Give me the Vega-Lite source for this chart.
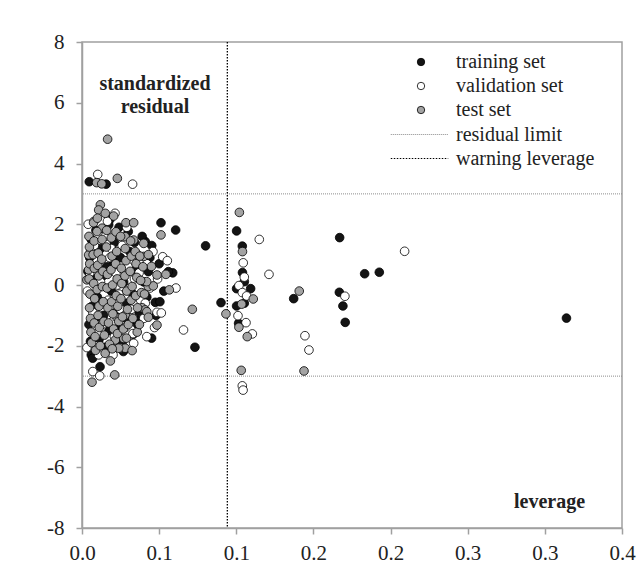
{
"$schema": "https://vega.github.io/schema/vega-lite/v6.json",
"width": 540, "height": 486,
"autosize": {"type": "none"},
"padding": {"left": 82, "top": 42, "right": 19, "bottom": 51},
"background": "white",
"config": {
 "font": "Liberation Serif",
 "view": {"stroke": "#a0a0a0", "strokeWidth": 1.5},
 "axis": {"grid": false, "labelFlush": false, "domainColor": "#a0a0a0", "tickColor": "#a0a0a0", "tickSize": 6, "domainWidth": 1.5, "tickWidth": 1.5, "labelFont": "Liberation Serif", "labelFontSize": 21, "labelColor": "#222", "title": null},
 "legend": {"labelFont": "Liberation Serif", "labelFontSize": 20, "labelColor": "#222", "title": null, "padding": 0, "rowPadding": 4}
},
"datasets": {
 "pts": [
{"h":0.0047,"r":3.40,"set":"training set"},{"h":0.0156,"r":3.32,"set":"training set"},{"h":0.0173,"r":1.98,"set":"training set"},{"h":0.0300,"r":1.76,"set":"training set"},{"h":0.0410,"r":1.43,"set":"training set"},{"h":0.0452,"r":1.30,"set":"training set"},{"h":0.0512,"r":2.05,"set":"training set"},{"h":0.0607,"r":1.81,"set":"training set"},{"h":0.0801,"r":1.29,"set":"training set"},{"h":0.0588,"r":0.40,"set":"training set"},{"h":0.0560,"r":0.44,"set":"training set"},{"h":0.0430,"r":0.44,"set":"training set"},{"h":0.0475,"r":-0.57,"set":"training set"},{"h":0.0505,"r":-0.55,"set":"training set"},{"h":0.0287,"r":-1.10,"set":"training set"},{"h":0.0354,"r":-1.18,"set":"training set"},{"h":0.0333,"r":-1.62,"set":"training set"},{"h":0.0451,"r":-1.75,"set":"training set"},{"h":0.0268,"r":-2.19,"set":"training set"},{"h":0.0060,"r":-2.30,"set":"training set"},{"h":0.0069,"r":-2.41,"set":"training set"},{"h":0.0117,"r":-2.69,"set":"training set"},{"h":0.0732,"r":-2.05,"set":"training set"},{"h":0.0901,"r":-0.58,"set":"training set"},
{"h":0.0050,"r":0.90,"set":"training set"},{"h":0.0060,"r":1.50,"set":"training set"},{"h":0.0085,"r":0.20,"set":"training set"},{"h":0.0100,"r":-0.40,"set":"training set"},{"h":0.0120,"r":1.20,"set":"training set"},{"h":0.0140,"r":-1.00,"set":"training set"},{"h":0.0160,"r":0.60,"set":"training set"},{"h":0.0190,"r":-0.20,"set":"training set"},{"h":0.0210,"r":1.40,"set":"training set"},{"h":0.0230,"r":-1.40,"set":"training set"},{"h":0.0250,"r":0.90,"set":"training set"},{"h":0.0270,"r":0.10,"set":"training set"},{"h":0.0290,"r":-0.60,"set":"training set"},{"h":0.0310,"r":1.10,"set":"training set"},{"h":0.0330,"r":-0.30,"set":"training set"},{"h":0.0350,"r":0.50,"set":"training set"},{"h":0.0370,"r":-0.90,"set":"training set"},{"h":0.0390,"r":1.60,"set":"training set"},{"h":0.0045,"r":-1.30,"set":"training set"},{"h":0.0065,"r":-0.70,"set":"training set"},{"h":0.0090,"r":1.80,"set":"training set"},{"h":0.0110,"r":-1.80,"set":"training set"},{"h":0.0135,"r":0.30,"set":"training set"},{"h":0.0175,"r":-1.50,"set":"training set"},{"h":0.0200,"r":0.80,"set":"training set"},{"h":0.0220,"r":-0.90,"set":"training set"},{"h":0.0240,"r":1.90,"set":"training set"},{"h":0.0260,"r":-1.90,"set":"training set"},{"h":0.0340,"r":1.40,"set":"training set"},{"h":0.0360,"r":-1.30,"set":"training set"},{"h":0.0400,"r":0.10,"set":"training set"},{"h":0.0420,"r":-0.40,"set":"training set"},{"h":0.0440,"r":0.90,"set":"training set"},{"h":0.0480,"r":-1.00,"set":"training set"},{"h":0.0530,"r":-0.20,"set":"training set"},{"h":0.0500,"r":0.70,"set":"training set"},{"h":0.0038,"r":0.45,"set":"training set"},{"h":0.0055,"r":-1.85,"set":"training set"},{"h":0.0095,"r":-1.05,"set":"training set"},{"h":0.0150,"r":-2.05,"set":"training set"},{"h":0.0180,"r":2.15,"set":"training set"},
{"h":0.1002,"r":1.78,"set":"training set"},{"h":0.1039,"r":1.28,"set":"training set"},{"h":0.1040,"r":0.41,"set":"training set"},{"h":0.1052,"r":0.11,"set":"training set"},{"h":0.1002,"r":-0.12,"set":"training set"},{"h":0.1093,"r":-0.12,"set":"training set"},{"h":0.1052,"r":-0.60,"set":"training set"},{"h":0.1002,"r":-0.69,"set":"training set"},{"h":0.1015,"r":-1.26,"set":"training set"},{"h":0.1372,"r":-0.45,"set":"training set"},{"h":0.1670,"r":1.56,"set":"training set"},{"h":0.1832,"r":0.37,"set":"training set"},{"h":0.1927,"r":0.42,"set":"training set"},{"h":0.1668,"r":-0.24,"set":"training set"},{"h":0.1691,"r":-0.69,"set":"training set"},{"h":0.1706,"r":-1.23,"set":"training set"},{"h":0.3140,"r":-1.09,"set":"training set"},
{"h":0.0102,"r":3.64,"set":"validation set"},{"h":0.0328,"r":3.32,"set":"validation set"},{"h":0.0076,"r":2.09,"set":"validation set"},{"h":0.0214,"r":2.36,"set":"validation set"},{"h":0.0523,"r":0.93,"set":"validation set"},{"h":0.0553,"r":0.80,"set":"validation set"},{"h":0.0609,"r":-0.10,"set":"validation set"},{"h":0.0486,"r":-0.90,"set":"validation set"},{"h":0.0514,"r":-0.92,"set":"validation set"},{"h":0.0420,"r":-1.70,"set":"validation set"},{"h":0.0658,"r":-1.48,"set":"validation set"},{"h":0.0335,"r":-1.92,"set":"validation set"},{"h":0.0248,"r":-2.08,"set":"validation set"},{"h":0.0201,"r":-2.30,"set":"validation set"},{"h":0.0108,"r":-2.30,"set":"validation set"},{"h":0.0032,"r":-2.06,"set":"validation set"},{"h":0.0070,"r":-2.85,"set":"validation set"},{"h":0.0115,"r":-2.99,"set":"validation set"},{"h":0.0187,"r":-1.99,"set":"validation set"},
{"h":0.0050,"r":0.40,"set":"validation set"},{"h":0.0070,"r":-0.90,"set":"validation set"},{"h":0.0080,"r":1.30,"set":"validation set"},{"h":0.0100,"r":-1.60,"set":"validation set"},{"h":0.0120,"r":0.10,"set":"validation set"},{"h":0.0150,"r":1.60,"set":"validation set"},{"h":0.0170,"r":-0.50,"set":"validation set"},{"h":0.0180,"r":0.90,"set":"validation set"},{"h":0.0200,"r":-1.20,"set":"validation set"},{"h":0.0220,"r":0.40,"set":"validation set"},{"h":0.0240,"r":-0.30,"set":"validation set"},{"h":0.0260,"r":1.30,"set":"validation set"},{"h":0.0280,"r":-1.40,"set":"validation set"},{"h":0.0300,"r":0.60,"set":"validation set"},{"h":0.0320,"r":-0.80,"set":"validation set"},{"h":0.0340,"r":0.20,"set":"validation set"},{"h":0.0360,"r":1.00,"set":"validation set"},{"h":0.0380,"r":-0.50,"set":"validation set"},{"h":0.0400,"r":-1.10,"set":"validation set"},{"h":0.0420,"r":0.70,"set":"validation set"},{"h":0.0440,"r":-0.10,"set":"validation set"},{"h":0.0460,"r":1.10,"set":"validation set"},{"h":0.0035,"r":-0.20,"set":"validation set"},{"h":0.0055,"r":1.10,"set":"validation set"},{"h":0.0090,"r":-2.00,"set":"validation set"},{"h":0.0130,"r":-1.30,"set":"validation set"},{"h":0.0165,"r":2.10,"set":"validation set"},{"h":0.0190,"r":1.20,"set":"validation set"},{"h":0.0210,"r":-1.70,"set":"validation set"},{"h":0.0230,"r":0.00,"set":"validation set"},{"h":0.0250,"r":-0.80,"set":"validation set"},{"h":0.0290,"r":1.90,"set":"validation set"},{"h":0.0310,"r":-0.10,"set":"validation set"},{"h":0.0330,"r":-1.60,"set":"validation set"},{"h":0.0370,"r":0.40,"set":"validation set"},{"h":0.0410,"r":-0.60,"set":"validation set"},{"h":0.0490,"r":0.20,"set":"validation set"},{"h":0.0470,"r":-1.40,"set":"validation set"},{"h":0.0040,"r":2.00,"set":"validation set"},
{"h":0.1149,"r":1.50,"set":"validation set"},{"h":0.1045,"r":0.73,"set":"validation set"},{"h":0.1052,"r":0.26,"set":"validation set"},{"h":0.1212,"r":0.35,"set":"validation set"},{"h":0.1017,"r":-0.02,"set":"validation set"},{"h":0.1039,"r":-0.25,"set":"validation set"},{"h":0.1067,"r":-0.36,"set":"validation set"},{"h":0.1011,"r":-1.01,"set":"validation set"},{"h":0.1063,"r":-1.24,"set":"validation set"},{"h":0.1104,"r":-1.61,"set":"validation set"},{"h":0.1445,"r":-1.67,"set":"validation set"},{"h":0.1471,"r":-2.14,"set":"validation set"},{"h":0.2091,"r":1.11,"set":"validation set"},{"h":0.1704,"r":-0.37,"set":"validation set"},{"h":0.1039,"r":-3.32,"set":"validation set"},{"h":0.1044,"r":-3.46,"set":"validation set"},
{"h":0.0166,"r":4.80,"set":"test set"},{"h":0.0095,"r":3.37,"set":"test set"},{"h":0.0128,"r":3.33,"set":"test set"},{"h":0.0229,"r":3.51,"set":"test set"},{"h":0.0119,"r":2.64,"set":"test set"},{"h":0.0108,"r":2.47,"set":"test set"},{"h":0.0151,"r":2.36,"set":"test set"},{"h":0.0205,"r":2.27,"set":"test set"},{"h":0.0285,"r":2.05,"set":"test set"},{"h":0.0335,"r":2.05,"set":"test set"},{"h":0.0512,"r":1.65,"set":"test set"},{"h":0.0130,"r":1.87,"set":"test set"},{"h":0.0097,"r":1.76,"set":"test set"},{"h":0.0400,"r":1.37,"set":"test set"},{"h":0.0280,"r":1.59,"set":"test set"},{"h":0.0335,"r":1.48,"set":"test set"},{"h":0.0043,"r":0.99,"set":"test set"},{"h":0.0043,"r":0.50,"set":"test set"},{"h":0.0032,"r":0.17,"set":"test set"},{"h":0.0400,"r":0.94,"set":"test set"},{"h":0.0450,"r":0.61,"set":"test set"},{"h":0.0486,"r":0.33,"set":"test set"},{"h":0.0544,"r":0.35,"set":"test set"},{"h":0.0430,"r":-0.05,"set":"test set"},{"h":0.0462,"r":-0.03,"set":"test set"},{"h":0.0566,"r":-0.16,"set":"test set"},{"h":0.0390,"r":-0.75,"set":"test set"},{"h":0.0410,"r":-0.82,"set":"test set"},{"h":0.0486,"r":-1.32,"set":"test set"},{"h":0.0280,"r":-0.99,"set":"test set"},{"h":0.0227,"r":-1.08,"set":"test set"},{"h":0.0270,"r":-1.76,"set":"test set"},{"h":0.0216,"r":-1.81,"set":"test set"},{"h":0.0280,"r":-2.08,"set":"test set"},{"h":0.0325,"r":-2.16,"set":"test set"},{"h":0.0238,"r":-2.08,"set":"test set"},{"h":0.0184,"r":-2.50,"set":"test set"},{"h":0.0212,"r":-2.96,"set":"test set"},{"h":0.0065,"r":-3.20,"set":"test set"},{"h":0.0715,"r":-0.80,"set":"test set"},{"h":0.0933,"r":-0.95,"set":"test set"},{"h":0.0420,"r":-0.88,"set":"test set"},{"h":0.0430,"r":-1.06,"set":"test set"},{"h":0.0419,"r":0.11,"set":"test set"},
{"h":0.0045,"r":1.60,"set":"test set"},{"h":0.0048,"r":1.25,"set":"test set"},{"h":0.0050,"r":0.70,"set":"test set"},{"h":0.0046,"r":0.20,"set":"test set"},{"h":0.0052,"r":-0.30,"set":"test set"},{"h":0.0049,"r":-0.75,"set":"test set"},{"h":0.0055,"r":-1.10,"set":"test set"},{"h":0.0058,"r":-1.55,"set":"test set"},{"h":0.0062,"r":-1.90,"set":"test set"},
{"h":0.0075,"r":2.05,"set":"test set"},{"h":0.0078,"r":1.45,"set":"test set"},{"h":0.0072,"r":1.00,"set":"test set"},{"h":0.0080,"r":0.55,"set":"test set"},{"h":0.0076,"r":0.05,"set":"test set"},{"h":0.0082,"r":-0.45,"set":"test set"},{"h":0.0079,"r":-1.25,"set":"test set"},{"h":0.0085,"r":-1.70,"set":"test set"},{"h":0.0088,"r":-2.15,"set":"test set"},
{"h":0.0100,"r":2.20,"set":"test set"},{"h":0.0105,"r":1.05,"set":"test set"},{"h":0.0102,"r":0.65,"set":"test set"},{"h":0.0108,"r":0.30,"set":"test set"},{"h":0.0098,"r":-0.15,"set":"test set"},{"h":0.0110,"r":-0.70,"set":"test set"},{"h":0.0104,"r":-1.00,"set":"test set"},{"h":0.0112,"r":-1.40,"set":"test set"},{"h":0.0118,"r":-2.00,"set":"test set"},
{"h":0.0130,"r":1.50,"set":"test set"},{"h":0.0128,"r":0.85,"set":"test set"},{"h":0.0135,"r":0.45,"set":"test set"},{"h":0.0132,"r":-0.05,"set":"test set"},{"h":0.0138,"r":-0.55,"set":"test set"},{"h":0.0142,"r":-1.20,"set":"test set"},{"h":0.0145,"r":-1.65,"set":"test set"},{"h":0.0150,"r":-2.25,"set":"test set"},
{"h":0.0160,"r":1.80,"set":"test set"},{"h":0.0158,"r":1.25,"set":"test set"},{"h":0.0165,"r":0.35,"set":"test set"},{"h":0.0162,"r":-0.10,"set":"test set"},{"h":0.0168,"r":-0.75,"set":"test set"},{"h":0.0172,"r":-1.25,"set":"test set"},{"h":0.0178,"r":-1.95,"set":"test set"},
{"h":0.0190,"r":1.55,"set":"test set"},{"h":0.0195,"r":0.95,"set":"test set"},{"h":0.0188,"r":0.50,"set":"test set"},{"h":0.0198,"r":0.00,"set":"test set"},{"h":0.0192,"r":-0.55,"set":"test set"},{"h":0.0200,"r":-0.95,"set":"test set"},{"h":0.0205,"r":-1.45,"set":"test set"},{"h":0.0196,"r":-2.10,"set":"test set"},
{"h":0.0220,"r":1.75,"set":"test set"},{"h":0.0225,"r":1.10,"set":"test set"},{"h":0.0218,"r":0.70,"set":"test set"},{"h":0.0228,"r":0.20,"set":"test set"},{"h":0.0222,"r":-0.35,"set":"test set"},{"h":0.0232,"r":-0.70,"set":"test set"},{"h":0.0238,"r":-1.20,"set":"test set"},{"h":0.0230,"r":-1.60,"set":"test set"},
{"h":0.0250,"r":1.60,"set":"test set"},{"h":0.0255,"r":0.55,"set":"test set"},{"h":0.0258,"r":0.05,"set":"test set"},{"h":0.0252,"r":-0.45,"set":"test set"},{"h":0.0262,"r":-1.05,"set":"test set"},{"h":0.0268,"r":-1.45,"set":"test set"},
{"h":0.0280,"r":1.20,"set":"test set"},{"h":0.0285,"r":0.80,"set":"test set"},{"h":0.0278,"r":0.30,"set":"test set"},{"h":0.0290,"r":-0.20,"set":"test set"},{"h":0.0295,"r":-0.80,"set":"test set"},{"h":0.0300,"r":-1.30,"set":"test set"},{"h":0.0288,"r":-1.75,"set":"test set"},
{"h":0.0315,"r":1.45,"set":"test set"},{"h":0.0320,"r":0.95,"set":"test set"},{"h":0.0312,"r":0.45,"set":"test set"},{"h":0.0325,"r":-0.05,"set":"test set"},{"h":0.0318,"r":-0.50,"set":"test set"},{"h":0.0330,"r":-1.10,"set":"test set"},
{"h":0.0345,"r":1.10,"set":"test set"},{"h":0.0350,"r":0.70,"set":"test set"},{"h":0.0355,"r":0.25,"set":"test set"},{"h":0.0348,"r":-0.35,"set":"test set"},{"h":0.0360,"r":-0.75,"set":"test set"},{"h":0.0358,"r":-1.55,"set":"test set"},
{"h":0.0375,"r":0.95,"set":"test set"},{"h":0.0380,"r":0.15,"set":"test set"},{"h":0.0385,"r":-0.25,"set":"test set"},{"h":0.0372,"r":-1.30,"set":"test set"},{"h":0.0395,"r":0.60,"set":"test set"},{"h":0.0405,"r":-0.30,"set":"test set"},{"h":0.0430,"r":1.00,"set":"test set"},
{"h":0.1020,"r":2.39,"set":"test set"},{"h":0.1040,"r":1.10,"set":"test set"},{"h":0.1110,"r":-0.46,"set":"test set"},{"h":0.1035,"r":-0.63,"set":"test set"},{"h":0.1017,"r":-1.39,"set":"test set"},{"h":0.1071,"r":-1.70,"set":"test set"},{"h":0.1032,"r":-2.81,"set":"test set"},{"h":0.1439,"r":-2.83,"set":"test set"},{"h":0.1408,"r":-0.20,"set":"test set"}
 ],
 "limits": [{"r": 3, "kind": "residual limit"}, {"r": -3, "kind": "residual limit"}],
 "warn": [{"h": 0.0942, "kind": "warning leverage"}]
},
"layer": [
 {
  "data": {"name": "limits"},
  "mark": {"type": "rule", "strokeDash": [1, 1], "strokeWidth": 1},
  "encoding": {
   "y": {"field": "r", "type": "quantitative", "scale": {"domain": [-8, 8], "nice": false}, "axis": {"values": [-8,-6,-4,-2,0,2,4,6,8], "labelExpr": "toString(datum.value)", "labelPadding": 12}},
   "stroke": {"field": "kind", "type": "nominal", "scale": {"domain": ["residual limit"], "range": ["#8c8c8c"]},
     "legend": {"orient": "none", "legendX": 308, "legendY": 63, "symbolType": "stroke", "symbolSize": 3300, "symbolDash": [1, 1], "symbolStrokeWidth": 1, "labelOffset": 7}}
  }
 },
 {
  "data": {"name": "warn"},
  "mark": {"type": "rule", "stroke": "#000", "strokeWidth": 1.3},
  "encoding": {
   "x": {"field": "h", "type": "quantitative"},
   "strokeDash": {"field": "kind", "type": "nominal", "scale": {"domain": ["warning leverage"], "range": [[1.5, 1.5]]},
     "legend": {"orient": "none", "legendX": 308, "legendY": 87, "symbolType": "stroke", "symbolSize": 3300, "symbolStrokeColor": "#000", "symbolStrokeWidth": 1.2, "labelOffset": 7}}
  }
 },
 {
  "data": {"name": "pts"},
  "mark": {"type": "point", "shape": "circle", "filled": true, "size": 75, "stroke": "#000", "strokeWidth": 0.8, "opacity": 1},
  "encoding": {
   "x": {"field": "h", "type": "quantitative", "scale": {"domain": [0, 0.35], "nice": false}, "axis": {"values": [0,0.05,0.1,0.15,0.2,0.25,0.3,0.35], "labelExpr": "['0.0','0.1','0.1','0.2','0.2','0.3','0.3','0.4'][round(datum.value*20)]", "labelPadding": 8}},
   "y": {"field": "r", "type": "quantitative"},
   "fill": {"field": "set", "type": "nominal", "scale": {"domain": ["training set", "validation set", "test set"], "range": ["#141414", "#ffffff", "#a3a3a3"]},
     "legend": {"orient": "none", "legendX": 329, "legendY": 10, "symbolType": "circle", "symbolSize": 55, "symbolStrokeColor": "#000", "symbolStrokeWidth": 0.8, "labelOffset": 25}}
  }
 },
 {
  "data": {"values": [{}]},
  "mark": {"type": "text", "text": ["standardized", "residual"], "font": "Liberation Serif", "fontSize": 20, "fontWeight": "bold", "color": "#222", "align": "center", "baseline": "middle", "lineHeight": 23},
  "encoding": {"x": {"datum": 0.0473}, "y": {"datum": 6.63}}
 },
 {
  "data": {"values": [{}]},
  "mark": {"type": "text", "text": "leverage", "font": "Liberation Serif", "fontSize": 20, "fontWeight": "bold", "color": "#222", "align": "center", "baseline": "middle"},
  "encoding": {"x": {"datum": 0.303}, "y": {"datum": -7.14}}
 }
]
}
